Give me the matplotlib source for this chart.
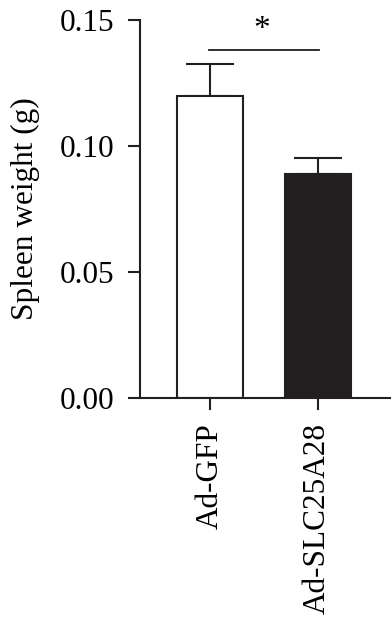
import matplotlib
matplotlib.use("Agg")
import matplotlib.pyplot as plt

groups = ["Ad-GFP", "Ad-SLC25A28"]
means = [0.120, 0.0887]
errs = [0.0124, 0.0064]
colors = ["white", "#231f20"]
yticks = [0.00, 0.05, 0.10, 0.15]
sig_label = "*"
sig_y = 0.138

plt.rcParams["font.family"] = ["Liberation Serif", "DejaVu Serif"]
plt.rcParams["font.size"] = 22.5

fig = plt.figure(figsize=(3.91, 6.17), dpi=100)
ax = fig.add_axes([0.357, 0.3554, 0.64, 0.6122])

x = range(len(groups))
ax.bar(x, means, width=0.614, color=colors, edgecolor="#231f20", linewidth=1.5, zorder=2)
ax.errorbar(x, means, yerr=[[0, 0], errs], fmt="none", ecolor="#231f20",
            elinewidth=1.5, capsize=17, capthick=1.5, zorder=1)

# significance bar
ax.plot([-0.01, 1.01], [sig_y, sig_y], color="#231f20", lw=1.3, clip_on=False)
ax.text(0.48, sig_y + 0.002, sig_label, ha="center", va="bottom", fontsize=24)

ax.set_xlim(-0.659, 1.673)
ax.set_ylim(0, 0.15)
ax.set_yticks(yticks)
ax.set_yticklabels([f"{v:.2f}" for v in yticks])
ax.set_xticks(list(x))
ax.set_xticklabels(groups, rotation=90)
ax.set_ylabel("Spleen weight (g)", labelpad=14)

for s in ["top", "right"]:
    ax.spines[s].set_visible(False)
for s in ["left", "bottom"]:
    ax.spines[s].set_linewidth(1.5)
    ax.spines[s].set_color("#231f20")
ax.tick_params(length=8.5, width=1.5, color="#231f20", pad=10)

fig.savefig("out.png", dpi=100)
